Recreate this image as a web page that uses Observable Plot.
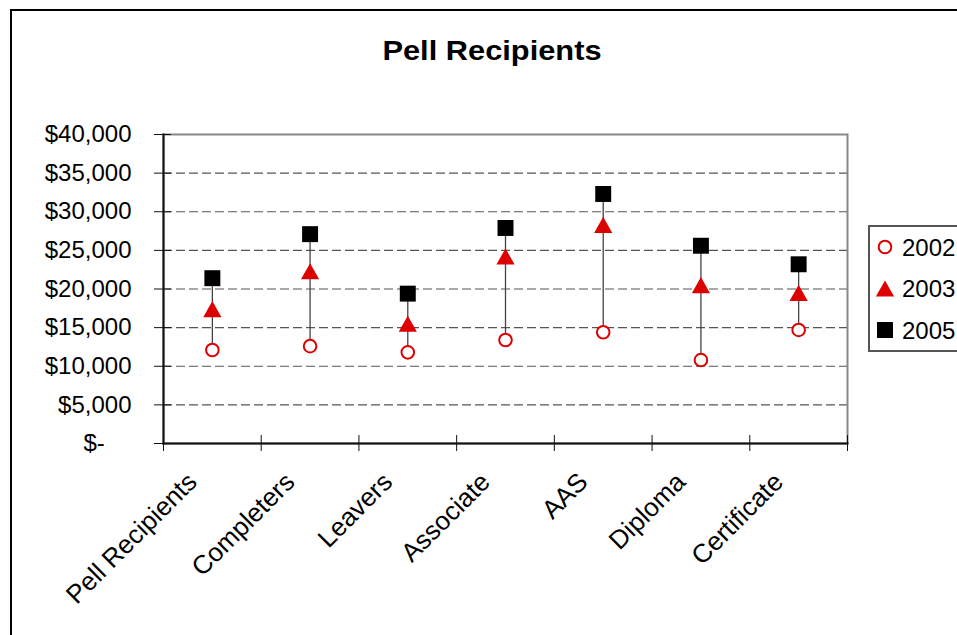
<!DOCTYPE html>
<html><head><meta charset="utf-8">
<script src="https://cdn.jsdelivr.net/npm/d3@7"></script>
<script src="https://cdn.jsdelivr.net/npm/@observablehq/plot@0.6"></script>
<style>
html,body{margin:0;padding:0;width:957px;height:635px;overflow:hidden;background:#fff;font-family:"Liberation Sans",Arial,sans-serif;}
#border{position:absolute;left:10px;top:9px;width:1000px;height:700px;border:2px solid #000;box-sizing:border-box;}
#chart{position:absolute;left:0;top:0;}
#title{position:absolute;left:492px;top:34px;transform:translateX(-50%) scaleX(1.1);font-weight:bold;font-size:28px;line-height:34px;white-space:nowrap;color:#000;}
#legend{position:absolute;left:868px;top:225px;width:120px;height:127px;border:2px solid #555;box-sizing:border-box;background:#fff;}
#legend svg{position:absolute;left:-2px;top:-2px;overflow:visible;}
</style></head><body>
<div id="border"></div>
<div id="chart"></div>
<div id="title">Pell Recipients</div>
<div id="legend"></div>
<script>
const categories = ["Pell Recipients", "Completers", "Leavers", "Associate", "AAS", "Diploma", "Certificate"];
const seriesNames = ["2002", "2003", "2005"];
const values2002 = [12100, 12600, 11800, 13400, 14400, 10800, 14700];
const values2003 = [17400, 22300, 15500, 24200, 28300, 20500, 19500];
const values2005 = [21400, 27100, 19400, 27900, 32300, 25600, 23200];
const yTicks = [0, 5000, 10000, 15000, 20000, 25000, 30000, 35000, 40000];
const gridTicks = [5000, 10000, 15000, 20000, 25000, 30000, 35000];

const RED = "#dd0000";
const fmt = d => d === 0 ? "$-\u00a0\u00a0\u00a0\u00a0" : "$" + d3.format(",")(d);

// triangle centred on its bounding box (as in the spreadsheet's markers)
const triangle = {
  draw(ctx, size) {
    const s = Math.sqrt(size / Math.PI);
    ctx.moveTo(0, -1.15 * s);
    ctx.lineTo(1.3 * s, 1.15 * s);
    ctx.lineTo(-1.3 * s, 1.15 * s);
    ctx.closePath();
  }
};

const idx = d3.range(categories.length);
const pos = i => i + 0.5;

const chart = Plot.plot({
  width: 957,
  height: 635,
  marginLeft: 163,
  marginRight: 110,
  marginTop: 134,
  marginBottom: 192,
  style: {fontFamily: '"Liberation Sans", Arial, sans-serif', background: "transparent", overflow: "visible", color: "#000"},
  x: {domain: [0, categories.length]},
  y: {domain: [0, 40000]},
  marks: [
    Plot.ruleY(gridTicks, {y: d => d, stroke: "#555", strokeWidth: 1.2, strokeDasharray: "9,4"}),
    Plot.frame({stroke: "#888", strokeWidth: 2}),
    Plot.ruleX(idx, {x: pos, y1: i => Math.min(values2002[i], values2003[i], values2005[i]), y2: i => Math.max(values2002[i], values2003[i], values2005[i]), stroke: "#444", strokeWidth: 1.3}),
    Plot.dot(idx, {x: pos, y: i => values2002[i], symbol: "circle", r: 6.3, stroke: RED, strokeWidth: 2, fill: "#fff"}),
    Plot.dot(idx, {x: pos, y: i => values2003[i], symbol: triangle, r: 7, fill: RED, stroke: "none"}),
    Plot.dot(idx, {x: pos, y: i => values2005[i], symbol: "square", r: 9, fill: "#000", stroke: "none"}),
    Plot.frame({anchor: "left", stroke: "#111", strokeWidth: 2}),
    Plot.frame({anchor: "bottom", stroke: "#111", strokeWidth: 2}),
    Plot.axisY(yTicks, {tickSize: 17, dx: 8, tickFormat: () => "", label: null, stroke: "#111"}),
    Plot.axisY(yTicks, {tickSize: 0, tickPadding: 32, tickFormat: fmt, label: null, fontSize: 24, fill: "#000"}),
    Plot.axisX(d3.range(categories.length + 1), {tickSize: 16, dy: -8, tickFormat: () => "", label: null, stroke: "#111"}),
    Plot.text(categories, {x: (d, i) => pos(i), y: () => 0, text: d => d, rotate: -45, textAnchor: "end", lineAnchor: "top", dx: -27, dy: 27, fontSize: 26, fill: "#000"})
  ]
});
document.getElementById("chart").appendChild(chart);

// legend
const lg = d3.select("#legend").append("svg").attr("width", 130).attr("height", 130)
  .style("font-family", '"Liberation Sans", Arial, sans-serif');
const legendItems = [
  {name: seriesNames[0], sym: d3.symbolCircle, size: Math.PI * 6.3 * 6.3, fill: "#fff", stroke: RED, sw: 2},
  {name: seriesNames[1], sym: triangle, size: Math.PI * 49, fill: RED, stroke: "none", sw: 0},
  {name: seriesNames[2], sym: d3.symbolSquare, size: Math.PI * 81, fill: "#000", stroke: "none", sw: 0}
];
legendItems.forEach((it, k) => {
  const y = 22 + k * 41.5;
  lg.append("path").attr("d", d3.symbol(it.sym, it.size)()).attr("transform", `translate(17,${y})`)
    .attr("fill", it.fill).attr("stroke", it.stroke).attr("stroke-width", it.sw);
  lg.append("text").attr("x", 34).attr("y", y).attr("dy", "0.36em").attr("font-size", 24).attr("fill", "#000").text(it.name);
});
</script>
</body></html>
